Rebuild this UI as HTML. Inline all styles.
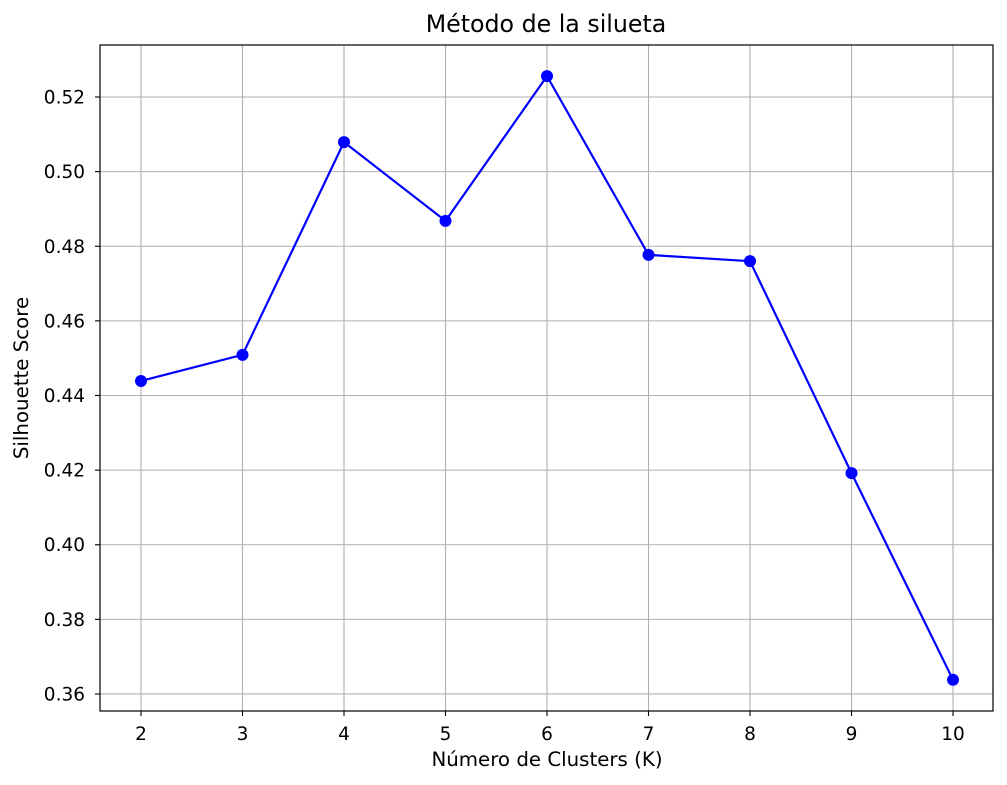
<!DOCTYPE html>
<html>
<head>
<meta charset="utf-8">
<style>
  html,body{margin:0;padding:0;background:#fff;}
  svg{display:block;font-family:"DejaVu Sans","Liberation Sans",sans-serif;}
</style>
</head>
<body>
<svg id="chart" width="1007" height="785" viewBox="0 0 1007 785">
  <text x="546" y="32" text-anchor="middle" font-size="23.7" fill="#000">Método de la silueta</text>
  <text x="547" y="766" text-anchor="middle" font-size="19.8" fill="#000">Número de Clusters (K)</text>
  <text transform="translate(28,378) rotate(-90)" text-anchor="middle" font-size="19.8" fill="#000">Silhouette Score</text>
  <g id="grid"></g>
  <g id="ticks"></g>
  <g id="series"></g>
  <rect x="100" y="45" width="893" height="666" fill="none" stroke="#000" stroke-width="1.2"/>
</svg>
<script>
const categories = [2, 3, 4, 5, 6, 7, 8, 9, 10];
const scores = [0.4439, 0.4509, 0.5079, 0.4868, 0.5256, 0.4777, 0.4760, 0.4192, 0.3638];
const xTicks = [2, 3, 4, 5, 6, 7, 8, 9, 10];
const yTicks = [0.36, 0.38, 0.40, 0.42, 0.44, 0.46, 0.48, 0.50, 0.52];

const L = 100, R = 993, T = 45, B = 711;
const xMin = 1.596, xMax = 10.394, yMin = 0.35544, yMax = 0.53394;
function xs(v){ return L + (v - xMin) / (xMax - xMin) * (R - L); }
function ys(v){ return B - (v - yMin) / (yMax - yMin) * (B - T); }

const NS = "http://www.w3.org/2000/svg";
function mk(tag, attrs, parent){
  const e = document.createElementNS(NS, tag);
  for (const k in attrs) e.setAttribute(k, attrs[k]);
  parent.appendChild(e);
  return e;
}
const grid = document.getElementById('grid');
const ticks = document.getElementById('ticks');
const series = document.getElementById('series');

xTicks.forEach(t => {
  const x = xs(t);
  const g = mk('line', {x1:x, x2:x, y1:T, y2:B, stroke:'#b0b0b0', 'stroke-width':1.1}, grid);
  
  
  const tk = mk('line', {x1:x, x2:x, y1:B, y2:B+5, stroke:'#000', 'stroke-width':1.1}, ticks);
  
  
  const lb = mk('text', {x:x, y:B+29, 'text-anchor':'middle', 'font-size':18.5, fill:'#000'}, ticks);
  lb.textContent = String(t);
  
  
});
yTicks.forEach(t => {
  const y = ys(t);
  const g = mk('line', {x1:L, x2:R, y1:y, y2:y, stroke:'#b0b0b0', 'stroke-width':1.1}, grid);
  
  
  const tk = mk('line', {x1:L-5, x2:L, y1:y, y2:y, stroke:'#000', 'stroke-width':1.1}, ticks);
  
  
  const lb = mk('text', {x:L-15, y:y+6.5, 'text-anchor':'end', 'font-size':18.5, fill:'#000'}, ticks);
  lb.textContent = t.toFixed(2);
  
  
});

const pts = categories.map((c,i) => xs(c).toFixed(2) + ',' + ys(scores[i]).toFixed(2)).join(' ');
const line = mk('polyline', {points:pts, fill:'none', stroke:'#0000ff', 'stroke-width':2.2, 'stroke-linejoin':'round'}, series);


categories.forEach((c,i) => {
  const p = mk('circle', {cx:xs(c), cy:ys(scores[i]), r:6, fill:'#0000ff'}, series);
  
  
});
</script>
</body>
</html>
